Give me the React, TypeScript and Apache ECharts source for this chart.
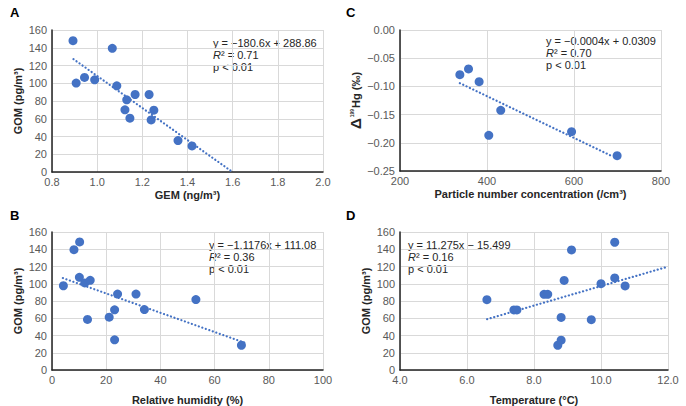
import React, { useEffect, useRef } from "react";
import * as echarts from "echarts";

// Panel A: GEM vs GOM
const gemA = [0.893, 1.067, 0.907, 0.944, 0.989, 1.087, 1.168, 1.23, 1.131, 1.123, 1.251, 1.145, 1.239, 1.358, 1.42];
const gomA = [148, 139.3, 100.2, 106.6, 103.9, 97.1, 87.3, 87.3, 81.3, 70, 69.7, 60.6, 58.7, 35.4, 29.4];
const trendA = { slope: -180.6, intercept: 288.86, x0: 0.895, x1: 1.6 };
const eqA = ["y = −180.6x + 288.86", "0.71", "p < 0.01"];

// Panel B: relative humidity vs GOM
const rhB = [4.2, 8.1, 10.2, 10.1, 12.1, 14.1, 13.1, 21.1, 23.1, 24.2, 23.1, 31, 34.1, 53.1, 69.9];
const gomB = [97.7, 139.5, 148.5, 107.4, 101, 104, 58.6, 61.2, 69.8, 88, 35, 88, 70.1, 81.7, 28.7];
const trendB = { slope: -1.1176, intercept: 111.08, x0: 4, x1: 72 };
const eqB = ["y = −1.1176x + 111.08", "0.36", "p < 0.01"];

// Panel C: particle number concentration vs Δ199Hg
const pncC = [337.6, 357.5, 381.9, 431.6, 404.1, 594.4, 699.1];
const hgC = [-0.0792, -0.0691, -0.0916, -0.1424, -0.1868, -0.1803, -0.2228];
const trendC = { slope: -0.00037, intercept: 0.0307, x0: 337.6, x1: 690 };
const eqC = ["y = −0.0004x + 0.0309", "0.70", "p < 0.01"];

// Panel D: temperature vs GOM
const tempD = [6.594, 7.4, 7.49, 8.3, 8.41, 8.9, 9.12, 8.81, 8.71, 8.81, 9.71, 10.0, 10.41, 10.41, 10.72];
const gomD = [81.5, 69.6, 69.6, 87.8, 87.8, 103.8, 139.2, 61.0, 28.7, 34.6, 58.4, 100.1, 148.1, 106.8, 97.5];
const trendD = { slope: 11.275, intercept: -15.499, x0: 6.6, x1: 12.0 };
const eqD = ["y = 11.275x − 15.499", "0.16", "p < 0.01"];

const BLUE = "#4472C4";
const FONT = "'Liberation Sans', Arial, sans-serif";
const GRID_C = "#d9d9d9";
const LABEL_C = "#595959";
const AXIS_C = "#222";

function minus(s: string) {
  return s.replace("-", "−");
}

function xAxisCfg(gi: number, min: number, max: number, interval: number, dec: number, name: string, nameGap: number) {
  return {
    type: "value",
    gridIndex: gi,
    min,
    max,
    interval,
    name,
    nameLocation: "middle",
    nameGap,
    nameTextStyle: { fontFamily: FONT, fontSize: 11, fontWeight: "bold", color: "#262626" },
    axisLine: { show: true, onZero: false, lineStyle: { color: AXIS_C, width: 1.5 } },
    axisTick: { show: false },
    splitLine: { show: true, lineStyle: { color: GRID_C, width: 1 } },
    axisLabel: {
      fontFamily: FONT,
      fontSize: 11,
      color: LABEL_C,
      margin: 4,
      formatter: (v: number) => minus(v.toFixed(dec)),
    },
  };
}

function yAxisCfg(gi: number, min: number, max: number, interval: number, dec: number, name: string, nameGap: number) {
  return {
    type: "value",
    gridIndex: gi,
    min,
    max,
    interval,
    name,
    nameLocation: "middle",
    nameGap,
    nameTextStyle: { fontFamily: FONT, fontSize: 11, fontWeight: "bold", color: "#262626" },
    axisLine: { show: true, onZero: false, lineStyle: { color: AXIS_C, width: 1.5 } },
    axisTick: { show: false },
    splitLine: { show: true, lineStyle: { color: GRID_C, width: 1 } },
    axisLabel: {
      fontFamily: FONT,
      fontSize: 11,
      color: LABEL_C,
      margin: 5,
      formatter: (v: number) => minus(v.toFixed(dec)),
    },
  };
}

function scatter(gi: number, xs: number[], ys: number[]) {
  return {
    type: "scatter",
    xAxisIndex: gi,
    yAxisIndex: gi,
    symbolSize: 9,
    itemStyle: { color: BLUE, opacity: 1 },
    data: xs.map((x, i) => [x, ys[i]]),
    z: 3,
  };
}

function trend(gi: number, t: { slope: number; intercept: number; x0: number; x1: number }) {
  return {
    type: "line",
    xAxisIndex: gi,
    yAxisIndex: gi,
    showSymbol: false,
    symbol: "none",
    lineStyle: { color: BLUE, width: 2.2, type: [0.1, 3.6], cap: "round" },
    data: [
      [t.x0, t.slope * t.x0 + t.intercept],
      [t.x1, t.slope * t.x1 + t.intercept],
    ],
    z: 2,
  };
}

function eqText(x: number, y: number, eq: string[]) {
  const base = { fontFamily: FONT, fontSize: 11, fill: "#262626" };
  return [
    { type: "text", left: x, top: y, style: { ...base, text: eq[0] } },
    {
      type: "text",
      left: x,
      top: y + 12,
      style: {
        ...base,
        text: "{i|R}² = " + eq[1],
        rich: {
          i: { fontFamily: FONT, fontSize: 11, fontStyle: "italic", fill: "#262626" },
        },
      },
    },
    { type: "text", left: x, top: y + 24, style: { ...base, text: eq[2] } },
  ];
}

function letter(x: number, y: number, t: string) {
  return {
    type: "text",
    left: x,
    top: y,
    style: { text: t, fontFamily: FONT, fontSize: 13, fontWeight: "bold", fill: "#000" },
  };
}

export default function App() {
  const ref = useRef<HTMLDivElement>(null);
  useEffect(() => {
    document.body.style.margin = "0";
    if (!ref.current) return;
    const chart = echarts.init(ref.current, undefined, { renderer: "svg" });
    chart.setOption({
      animation: false,
      backgroundColor: "#fff",
      grid: [
        { left: 52, top: 30, width: 271, height: 142 },
        { left: 52, top: 232, width: 271, height: 143 },
        { left: 400, top: 30, width: 261, height: 141 },
        { left: 400, top: 232, width: 268, height: 143 },
      ],
      xAxis: [
        xAxisCfg(0, 0.8, 2.0, 0.2, 1, "GEM (ng/m³)", 17),
        xAxisCfg(1, 0, 100, 20, 0, "Relative humidity (%)", 24),
        xAxisCfg(2, 200, 800, 200, 0, "Particle number concentration (/cm³)", 17),
        xAxisCfg(3, 4, 12, 2, 1, "Temperature (°C)", 24),
      ],
      yAxis: [
        yAxisCfg(0, 0, 160, 20, 0, "GOM (pg/m³)", 29),
        yAxisCfg(1, 0, 160, 20, 0, "GOM (pg/m³)", 29),
        {
          ...yAxisCfg(2, -0.25, 0, 0.05, 2, "{d|Δ}{s|199}{b|Hg (‰)}", 37),
          nameTextStyle: {
            fontFamily: FONT,
            color: "#262626",
            rich: {
              d: { fontFamily: FONT, fontSize: 15, fontWeight: "bold", color: "#262626" },
              s: { fontFamily: FONT, fontSize: 5, fontWeight: "bold", color: "#262626", padding: [0, 1, 8, 1] },
              b: { fontFamily: FONT, fontSize: 11, fontWeight: "bold", color: "#262626" },
            },
          },
        },
        yAxisCfg(3, 0, 160, 20, 0, "GOM (pg/m³)", 29),
      ],
      series: [
        trend(0, trendA),
        scatter(0, gemA, gomA),
        trend(1, trendB),
        scatter(1, rhB, gomB),
        trend(2, trendC),
        scatter(2, pncC, hgC),
        trend(3, trendD),
        scatter(3, tempD, gomD),
      ],
      graphic: [
        letter(10, 6, "A"),
        letter(346, 6, "C"),
        letter(10, 209, "B"),
        letter(346, 209, "D"),
        ...eqText(213, 37, eqA),
        ...eqText(546, 35, eqC),
        ...eqText(209, 239, eqB),
        ...eqText(408, 239, eqD),
      ],
    });
    return () => chart.dispose();
  }, []);
  return <div ref={ref} style={{ position: "fixed", left: 0, top: 0, width: 686, height: 406 }} />;
}
